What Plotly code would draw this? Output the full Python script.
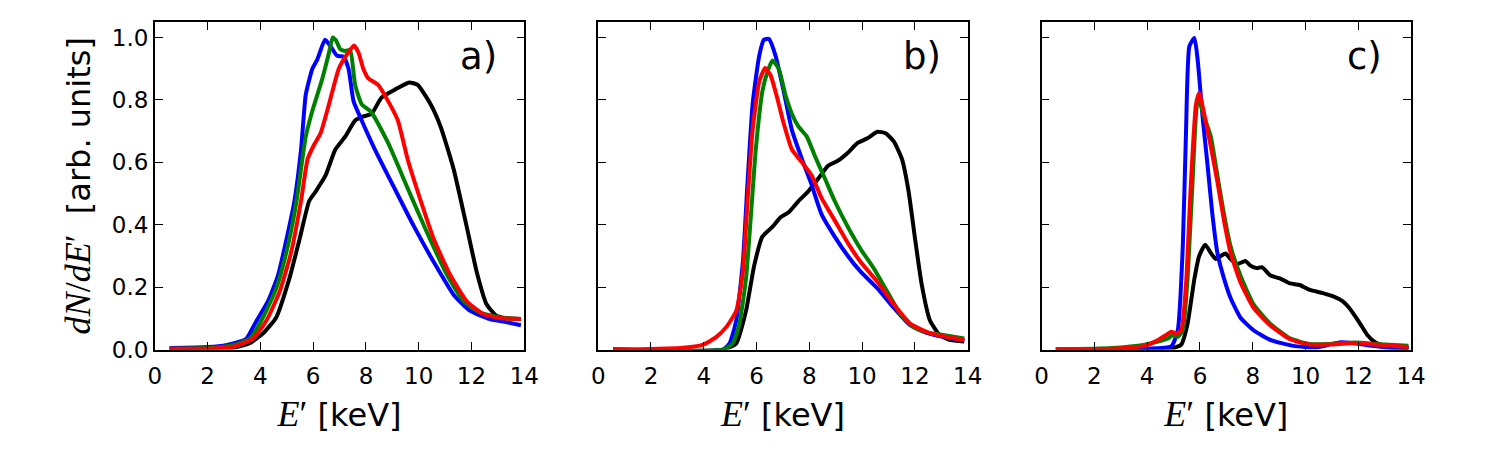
import plotly.graph_objects as go

# ---------------- data ----------------
# panel a
a_blue_x = [0.56, 2.0, 2.74, 3.24, 3.48, 3.86, 4.29, 4.67, 4.98, 5.29, 5.54, 5.72, 5.97, 6.16, 6.45, 6.66, 6.91, 7.15, 7.34, 7.53, 7.84, 8.34, 9.08, 9.83, 10.58, 11.32, 11.95, 12.69, 13.31, 13.87]
a_blue_y = [0.005, 0.008, 0.015, 0.026, 0.036, 0.093, 0.155, 0.238, 0.35, 0.476, 0.64, 0.817, 0.90, 0.93, 0.993, 0.972, 0.941, 0.939, 0.90, 0.796, 0.734, 0.641, 0.517, 0.393, 0.279, 0.176, 0.124, 0.098, 0.088, 0.078]
a_green_x = [0.56, 2.0, 3.0, 3.61, 4.1, 4.6, 4.98, 5.35, 5.72, 5.97, 6.35, 6.6, 6.74, 6.87, 7.03, 7.22, 7.4, 7.59, 7.84, 8.21, 8.84, 9.58, 10.33, 11.08, 11.7, 12.32, 13.07, 13.87]
a_green_y = [0.003, 0.005, 0.015, 0.036, 0.103, 0.196, 0.31, 0.465, 0.683, 0.765, 0.869, 0.951, 1.0, 0.99, 0.962, 0.957, 0.96, 0.848, 0.786, 0.76, 0.662, 0.517, 0.372, 0.238, 0.155, 0.119, 0.103, 0.098]
a_red_x = [0.56, 2.0, 3.0, 3.73, 4.23, 4.73, 5.16, 5.54, 5.79, 6.04, 6.28, 6.6, 6.97, 7.28, 7.55, 7.72, 7.9, 8.09, 8.46, 8.84, 9.21, 9.58, 10.08, 10.58, 11.2, 11.82, 12.44, 13.07, 13.87]
a_red_y = [0.003, 0.003, 0.01, 0.036, 0.093, 0.186, 0.31, 0.476, 0.61, 0.657, 0.693, 0.786, 0.90, 0.946, 0.974, 0.951, 0.90, 0.869, 0.848, 0.796, 0.734, 0.61, 0.476, 0.352, 0.238, 0.155, 0.114, 0.101, 0.098]
a_black_x = [0.56, 2.0, 3.0, 3.61, 4.1, 4.6, 5.1, 5.48, 5.85, 6.1, 6.47, 6.84, 7.22, 7.59, 7.9, 8.21, 8.59, 9.08, 9.64, 9.96, 10.45, 10.83, 11.32, 11.82, 12.2, 12.57, 12.94, 13.31, 13.87]
a_black_y = [0.002, 0.003, 0.006, 0.021, 0.052, 0.103, 0.228, 0.352, 0.476, 0.507, 0.558, 0.641, 0.683, 0.734, 0.747, 0.755, 0.807, 0.832, 0.856, 0.848, 0.786, 0.714, 0.579, 0.393, 0.248, 0.145, 0.109, 0.101, 0.098]

# panel b
b_blue_x = [0.56, 4.73, 4.98, 5.23, 5.48, 5.66, 5.85, 6.1, 6.28, 6.47, 6.72, 7.03, 7.34, 7.72, 8.09, 8.46, 8.96, 9.46, 9.96, 10.58, 11.2, 11.82, 12.44, 13.07, 13.87]
b_blue_y = [0.0, 0.0, 0.02, 0.093, 0.279, 0.538, 0.786, 0.941, 0.993, 0.995, 0.941, 0.827, 0.703, 0.61, 0.527, 0.434, 0.362, 0.30, 0.248, 0.196, 0.134, 0.078, 0.054, 0.041, 0.029]
b_green_x = [0.56, 4.73, 5.1, 5.35, 5.6, 5.79, 5.97, 6.22, 6.41, 6.6, 6.84, 7.09, 7.34, 7.59, 7.9, 8.21, 8.59, 8.96, 9.46, 9.96, 10.45, 10.95, 11.45, 11.95, 12.44, 13.07, 13.87]
b_green_y = [0.0, 0.0, 0.02, 0.083, 0.227, 0.434, 0.641, 0.827, 0.889, 0.926, 0.90, 0.817, 0.755, 0.714, 0.683, 0.62, 0.548, 0.476, 0.393, 0.32, 0.259, 0.186, 0.114, 0.072, 0.055, 0.047, 0.036]
b_red_x = [0.56, 3.11, 3.98, 4.48, 4.85, 5.23, 5.48, 5.66, 5.85, 6.1, 6.32, 6.53, 6.78, 7.03, 7.34, 7.72, 8.09, 8.46, 8.96, 9.46, 9.96, 10.58, 11.2, 11.82, 12.44, 13.07, 13.87]
b_red_y = [0.0, 0.005, 0.016, 0.041, 0.072, 0.124, 0.248, 0.476, 0.703, 0.858, 0.902, 0.879, 0.807, 0.724, 0.641, 0.60, 0.558, 0.486, 0.414, 0.341, 0.279, 0.217, 0.145, 0.083, 0.057, 0.043, 0.031]
b_black_x = [0.56, 4.73, 5.23, 5.6, 5.91, 6.22, 6.6, 6.91, 7.22, 7.59, 7.96, 8.34, 8.71, 9.08, 9.46, 9.83, 10.2, 10.58, 10.89, 11.2, 11.51, 11.76, 12.01, 12.26, 12.57, 12.94, 13.31, 13.87]
b_black_y = [0.0, 0.0, 0.02, 0.124, 0.269, 0.362, 0.393, 0.424, 0.44, 0.476, 0.507, 0.548, 0.589, 0.605, 0.631, 0.662, 0.677, 0.698, 0.693, 0.667, 0.61, 0.507, 0.352, 0.207, 0.093, 0.047, 0.031, 0.026]

# panel c
c_blue_x = [0.54, 3.91, 4.91, 5.16, 5.35, 5.47, 5.6, 5.79, 5.91, 6.1, 6.29, 6.47, 6.66, 6.91, 7.16, 7.53, 8.03, 8.66, 9.53, 10.41, 10.9, 11.28, 11.78, 12.53, 13.28, 13.9]
c_blue_y = [0.0, 0.003, 0.01, 0.062, 0.331, 0.693, 0.972, 0.998, 0.931, 0.745, 0.589, 0.434, 0.31, 0.228, 0.165, 0.103, 0.062, 0.031, 0.012, 0.007, 0.016, 0.023, 0.021, 0.012, 0.005, 0.004]
c_green_x = [0.54, 2.66, 3.91, 4.41, 4.79, 4.97, 5.16, 5.35, 5.53, 5.72, 5.89, 5.97, 6.16, 6.41, 6.66, 6.91, 7.16, 7.53, 8.03, 8.66, 9.41, 10.16, 10.9, 11.9, 12.65, 13.9]
c_green_y = [0.0, 0.005, 0.016, 0.026, 0.036, 0.047, 0.041, 0.062, 0.227, 0.538, 0.786, 0.796, 0.745, 0.683, 0.558, 0.434, 0.331, 0.238, 0.145, 0.083, 0.036, 0.018, 0.018, 0.023, 0.018, 0.012]
c_red_x = [0.54, 2.66, 3.91, 4.41, 4.72, 4.91, 5.1, 5.29, 5.47, 5.66, 5.85, 5.97, 6.16, 6.41, 6.66, 6.91, 7.16, 7.53, 8.03, 8.66, 9.41, 10.16, 10.9, 11.9, 12.65, 13.9]
c_red_y = [0.0, 0.003, 0.012, 0.031, 0.047, 0.057, 0.052, 0.062, 0.207, 0.538, 0.786, 0.822, 0.755, 0.651, 0.538, 0.414, 0.31, 0.217, 0.134, 0.078, 0.033, 0.016, 0.016, 0.021, 0.016, 0.008]
c_black_x = [0.54, 4.91, 5.29, 5.53, 5.79, 5.97, 6.2, 6.41, 6.6, 6.79, 6.97, 7.16, 7.41, 7.72, 7.91, 8.16, 8.35, 8.66, 9.03, 9.41, 9.78, 10.16, 10.66, 11.03, 11.4, 11.65, 12.03, 12.34, 12.65, 13.15, 13.9]
c_black_y = [0.0, 0.003, 0.016, 0.083, 0.227, 0.30, 0.336, 0.31, 0.29, 0.30, 0.308, 0.29, 0.274, 0.284, 0.269, 0.261, 0.264, 0.238, 0.228, 0.212, 0.207, 0.191, 0.181, 0.171, 0.155, 0.134, 0.088, 0.047, 0.023, 0.008, 0.005]

panel_labels = ["a)", "b)", "c)"]
x_ticks = [0, 2, 4, 6, 8, 10, 12, 14]
y_ticks = [0.0, 0.2, 0.4, 0.6, 0.8, 1.0]

panels = [
    [(a_black_x, a_black_y), (a_blue_x, a_blue_y), (a_green_x, a_green_y), (a_red_x, a_red_y)],
    [(b_black_x, b_black_y), (b_blue_x, b_blue_y), (b_green_x, b_green_y), (b_red_x, b_red_y)],
    [(c_black_x, c_black_y), (c_blue_x, c_blue_y), (c_green_x, c_green_y), (c_red_x, c_red_y)],
]
colors = ["#000000", "#0000ff", "#008000", "#ff0000"]

# ---------------- figure ----------------
FONT = "DejaVu Sans"
MATH = "Liberation Serif"
x_domains = [[0.1, 0.35], [0.4, 0.65], [0.7, 0.95]]

fig = go.Figure()
for i, series in enumerate(panels):
    xa = "x" if i == 0 else f"x{i+1}"
    ya = "y" if i == 0 else f"y{i+1}"
    for (xs, ys), col in zip(series, colors):
        fig.add_trace(go.Scatter(x=xs, y=ys, mode="lines", xaxis=xa, yaxis=ya,
                                 line=dict(color=col, width=4, shape="spline", smoothing=0.5),
                                 showlegend=False, hoverinfo="skip"))

xtitle = (f"<span style=\"font-family:'{MATH}';font-size:36px\"><i>E</i>′</span> [keV]")
ytitle = (f"<span style=\"font-family:'{MATH}';font-size:36px\"><i>dN</i>/<i>dE</i>′</span>  [arb. units]")

axis_common = dict(showline=True, linecolor="black", linewidth=1.6, mirror="ticks",
                   ticks="inside", ticklen=8, tickwidth=1.2, tickcolor="black",
                   showgrid=False, zeroline=False,
                   tickfont=dict(family=FONT, size=23, color="black"))

layout = dict(width=1500, height=450, margin=dict(l=0, r=0, t=0, b=0),
              paper_bgcolor="white", plot_bgcolor="white", showlegend=False,
              font=dict(family=FONT, color="black"))
for i in range(3):
    sx = "" if i == 0 else str(i + 1)
    layout[f"xaxis{sx}"] = dict(axis_common, domain=x_domains[i], range=[0, 14],
                                tickvals=x_ticks, ticktext=[str(t) for t in x_ticks],
                                anchor=f"y{sx}", ticklabelstandoff=5,
                                title=dict(text=xtitle, font=dict(family=FONT, size=32, color="black"),
                                           standoff=16))
    layout[f"yaxis{sx}"] = dict(axis_common, domain=[0.2, 0.95], range=[0, 1.05],
                                tickvals=y_ticks, anchor=f"x{sx}",
                                ticktext=[f"{t:.1f}" for t in y_ticks] if i == 0 else [""] * len(y_ticks),
                                title=dict(text=ytitle if i == 0 else "",
                                           font=dict(family=FONT, size=32, color="black"),
                                           standoff=12))
fig.update_layout(**layout)

for i, lab in enumerate(panel_labels):
    sx = "" if i == 0 else str(i + 1)
    fig.add_annotation(x=12.25, y=0.94, xref=f"x{sx}", yref=f"y{sx}", text=lab,
                       showarrow=False, xanchor="center", yanchor="middle",
                       font=dict(family=FONT, size=37, color="black"))

fig.write_html("out.html")
